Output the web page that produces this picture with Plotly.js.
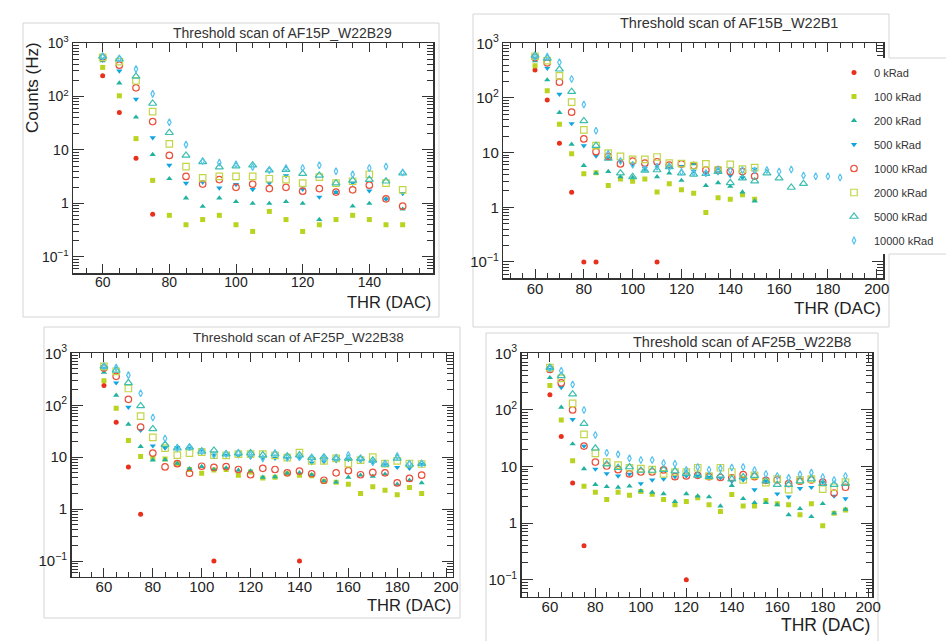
<!DOCTYPE html>
<html>
<head>
<meta charset="utf-8">
<script src="https://cdn.plot.ly/plotly-3.0.1.min.js"></script>
<style>html,body{margin:0;padding:0;background:#fff;}#chart{width:946px;height:641px;}</style>
</head>
<body>
<div id="chart"></div>
<script>
// ---------------- DATA ----------------
const doses = ['0 kRad','100 kRad','200 kRad','500 kRad','1000 kRad','2000 kRad','5000 kRad','10000 kRad'];
const titles = ['Threshold scan of AF15P_W22B29','Threshold scan of AF15B_W22B1','Threshold scan of AF25P_W22B38','Threshold scan of AF25B_W22B8'];
const yTickVals = [0.1, 1, 10, 100, 1000];
const yTickText = ['10<sup>\u22121</sup>', '1', '10', '10<sup>2</sup>', '10<sup>3</sup>'];

const thr1 = [60,65,70,75,80,85,90,95,100,105,110,115,120,125,130,135,140,145,150];
const thr2 = [60,65,70,75,80,85,90,95,100,105,110,115,120,125,130,135,140,145,150,155,160,165,170,175,180,185];
const thr3 = [60,65,70,75,80,85,90,95,100,105,110,115,120,125,130,135,140,145,150,155,160,165,170,175,180,185,190];
const thr4 = [60,65,70,75,80,85,90,95,100,105,110,115,120,125,130,135,140,145,150,155,160,165,170,175,180,185,190];

// Panel 1: AF15P_W22B29
const p1_0     = [245,50,7,0.63,null,null,null,null,null,null,null,null,null,null,null,null,null,null,null];
const p1_100   = [350,103,16.3,2.7,0.6,0.4,0.5,0.6,0.4,0.3,0.71,0.5,0.3,0.4,0.5,0.6,0.5,0.4,0.4];
const p1_200   = [465,178,41,8.2,2.9,1.26,0.88,1.26,1.08,1.0,1.0,1.08,1.0,0.5,1.6,0.89,1.0,1.22,0.78];
const p1_500   = [480,300,89,17,5.2,2.4,2.5,1.95,2.27,1.83,2.4,3.3,1.85,1.32,1.63,2.4,1.72,1.2,1.54];
const p1_1000  = [530,385,145,34,7.9,3.2,2.3,2.8,2.0,2.3,1.9,2.0,1.7,1.9,1.63,1.8,2.2,1.22,0.89];
const p1_2000  = [540,450,197,52,13,4.9,3.0,3.2,3.2,3.2,2.9,2.8,2.4,3.1,2.4,2.6,3.5,2.4,1.8];
const p1_5000  = [560,500,237,74,21,7.9,6.0,4.8,5.0,5.2,4.2,4.3,3.6,3.35,2.4,2.7,2.8,2.6,3.7];
const p1_10000 = [560,515,325,112,33,12.6,6.2,5.8,5.4,4.8,4.2,4.6,4.6,5.2,4.0,3.5,4.6,4.9,3.8];

// Panel 2: AF15B_W22B1
const p2_0     = [325,92,14.8,1.88,0.1,0.1,null,null,null,null,0.1,null,null,null,null,null,null,null,null,null,null,null,null,null,null,null];
const p2_100   = [390,136,33,9.5,4.1,4.3,2.5,3.3,3.0,3.3,1.9,2.7,2.1,1.8,0.8,1.5,1.4,1.7,1.4,null,null,null,null,null,null,null];
const p2_200   = [475,214,54,14.2,5.8,4.2,4.5,3.6,3.5,4.8,3.6,4.2,3.1,6.2,2.5,2.8,2.4,1.9,1.3,null,null,null,null,null,null,null];
const p2_500   = [520,350,117,34,13.4,8.7,8.2,7.0,6.0,5.2,5.9,5.4,5.6,4.6,4.2,4.3,3.8,3.5,5.0,null,null,null,null,null,null,null];
const p2_1000  = [550,440,194,55,17.8,10.4,8.5,6.2,7.0,6.4,6.8,5.9,6.2,5.8,4.8,4.9,4.5,4.5,3.7,null,null,null,null,null,null,null];
const p2_2000  = [580,480,253,84,26,13.4,9.8,8.5,7.5,7.5,8.3,6.4,6.3,5.8,6.2,4.8,6.1,5.0,5.3,null,null,null,null,null,null,null];
const p2_5000  = [600,530,335,130,38,13.4,7.8,4.2,3.6,4.7,4.8,5.5,4.2,4.0,4.1,4.5,2.8,3.4,3.0,4.2,3.4,2.3,2.7,null,null,null];
const p2_10000 = [560,570,450,222,76,25,9.5,7.0,6.0,5.0,5.5,5.4,4.4,4.3,4.2,4.9,4.7,4.8,4.7,4.8,4.5,4.9,3.8,3.7,3.7,3.5];

// Panel 3: AF25P_W22B38
const p3_0     = [240,47,6.5,0.8,null,null,null,null,null,0.1,null,null,null,null,null,null,0.1,null,null,null,null,null,null,null,null,null,null];
const p3_100   = [296,88,21,10.3,9.6,9.2,7.5,5.8,4.9,5.7,5.8,4.5,5.2,4.0,4.1,4.8,4.5,4.4,3.4,3.3,3.0,2.0,2.7,2.3,1.9,2.6,2.0];
const p3_200   = [430,155,43,16,8.8,8.9,7.6,6.0,6.6,5.8,6.2,5.6,5.4,4.1,4.2,4.9,5.0,4.6,3.5,3.3,4.1,4.5,4.3,4.7,3.0,3.6,3.2];
const p3_500   = [520,270,92,33,16.6,15,15.5,15,14,11,11,10.5,10,9.8,9.5,9.5,9.5,7.8,8.2,8.5,9,8.5,7.9,7.2,6.4,6.1,7.3];
const p3_1000  = [520,360,130,38,12,6.5,7.5,4.9,6.7,6.4,6.6,5.8,4.6,6.1,5.8,5.0,5.4,4.8,3.6,5.0,5.5,4.6,5.1,5.0,3.2,3.9,4.5];
const p3_2000  = [560,450,210,62,24,15,11,12,12.5,11,10.8,11.5,11.5,11.5,10.8,9.8,12.3,8.5,8.5,9.5,7.5,8.8,10,7.5,8.5,7.5,7.4];
const p3_5000  = [560,470,270,97,35,17.5,15,15.5,13,13.5,11.5,12,12,11,11.5,10.5,11,9.8,10,9.7,9.5,9.5,8.7,7.3,9.5,7.3,7.5];
const p3_10000 = [560,530,380,170,58,23,15,15.5,13,11,11.5,12,11,9.5,12,9.8,10,9.5,9.5,9.5,11,9.2,8.0,7.6,10.5,7.5,7.5];

// Panel 4: AF25B_W22B8
const p4_0     = [186,34,5.1,0.4,null,null,null,null,null,null,null,null,0.1,null,null,null,null,null,null,null,null,null,null,null,null,null,null];
const p4_100   = [270,66,12.7,4.5,3.5,2.6,3.5,3.1,3.6,3.25,2.6,2.1,2.4,2.8,2.1,1.6,3.2,2.0,2.0,2.5,2.2,2.1,1.4,2.2,0.9,1.5,1.7];
const p4_200   = [370,111,25,9.1,4.8,4.4,4.3,4.5,3.7,3.5,3.3,2.4,3.3,3.0,2.9,2.0,4.6,2.7,2.3,2.3,2.1,1.4,1.8,1.3,2.2,1.5,1.75];
const p4_500   = [520,250,68,23,9.0,7.5,6.8,7.3,5.0,5.8,6.0,6.6,6.8,6.8,6.5,6.3,5.5,5.8,3.9,5.5,3.3,2.9,4.1,4.3,5.3,3.0,2.7];
const p4_1000  = [520,300,100,23,12,10.2,8.8,7.4,8,8,8.7,6.6,6.8,7.0,6.6,6.4,6.3,7.2,6.6,5.7,5.8,5.0,5.5,5.8,5.3,3.4,4.3];
const p4_2000  = [560,360,130,37,17,12,10.6,9.5,9.2,8.8,7.4,8.0,8.0,9.5,6.8,9.5,8.0,5.8,7.0,5.2,6.0,3.9,5.8,6.0,4.0,4.3,5.3];
const p4_5000  = [560,400,190,57,21,11,9.5,9.8,8.5,8.5,8.8,8.3,7.5,7.0,6.6,6.8,6.0,6.5,6.9,5.5,4.8,4.8,5.5,6.0,5.0,4.8,5.0];
const p4_10000 = [540,490,280,100,36,17.5,16.5,14,13,13,11.5,11.2,8.7,9.8,8.8,9.3,9.6,9.8,8.7,7.4,6.8,6.3,7.3,7.8,6.5,5.8,6.8];

// ---------------- STYLE ----------------
const W = 946, H = 641;
const px = v => v / W;
const py = v => 1 - v / H;
const FONT = 'Liberation Sans, Arial, Helvetica, sans-serif';

const mColors  = ['#e8301c','#b9d31f','#22b3a0','#12a6de','#ea4e3a','#c3d64a','#3cbfae','#56c3ee'];
const mSymbols = ['circle','square','triangle-up','triangle-down','circle-open','square-open','triangle-up-open','diamond-tall-open'];
const mSizes   = [5,5,5.5,5.5,6.5,6.5,7,5];

const panels = [
  {thr: thr1, series: [p1_0,p1_100,p1_200,p1_500,p1_1000,p1_2000,p1_5000,p1_10000],
   dom: [[73,433],[43,273]], xr: [51.1,159.1]},
  {thr: thr2, series: [p2_0,p2_100,p2_200,p2_500,p2_1000,p2_2000,p2_5000,p2_10000],
   dom: [[503.3,883.3],[43.3,278.3]], xr: [47,202.7]},
  {thr: thr3, series: [p3_0,p3_100,p3_200,p3_500,p3_1000,p3_2000,p3_5000,p3_10000],
   dom: [[71.7,452.7],[353.3,576.7]], xr: [46.8,202.7]},
  {thr: thr4, series: [p4_0,p4_100,p4_200,p4_500,p4_1000,p4_2000,p4_5000,p4_10000],
   dom: [[521.7,872.3],[353.3,596.7]], xr: [47.6,201.8]}
];

const minorY = [];
for (let e = -2; e <= 2; e++) for (let k = 2; k <= 9; k++) minorY.push(k * Math.pow(10, e));

const traces = [];
const layout = {
  width: W, height: H, autosize: false,
  margin: {l: 0, r: 0, t: 0, b: 0, pad: 0},
  paper_bgcolor: '#ffffff', plot_bgcolor: '#ffffff',
  font: {family: FONT, color: '#222'},
  showlegend: true,
  legend: {
    x: px(834), y: py(58), xanchor: 'left', yanchor: 'top',
    bgcolor: 'rgba(0,0,0,0)', borderwidth: 0,
    font: {family: FONT, size: 11, color: '#333'},
    tracegroupgap: 5, traceorder: 'grouped'
  },
  shapes: [], annotations: []
};

panels.forEach((p, i) => {
  const n = i === 0 ? '' : String(i + 1);
  const xa = 'x' + n, ya = 'y' + n;
  p.series.forEach((vals, s) => {
    traces.push({
      type: 'scatter', mode: 'markers',
      x: p.thr, y: vals, xaxis: xa, yaxis: ya,
      name: doses[s], legendgroup: doses[s], showlegend: i === 1,
      marker: {symbol: mSymbols[s], size: mSizes[s], color: mColors[s],
               line: {color: mColors[s], width: s >= 4 ? 1.2 : 0}},
      hoverinfo: 'x+y+name'
    });
  });
  layout['xaxis' + n] = {
    domain: [px(p.dom[0][0]), px(p.dom[0][1])],
    range: p.xr, anchor: ya,
    showgrid: false, zeroline: false,
    showline: true, linecolor: '#333', linewidth: 1.5, mirror: 'allticks',
    ticks: 'inside', ticklen: 9, tickwidth: 1, tickcolor: '#333',
    tick0: 0, dtick: 20, ticklabelstandoff: -4,
    minor: {ticks: 'inside', ticklen: 5, tickwidth: 1, tickcolor: '#333', tick0: 0, dtick: 5, showgrid: false},
    tickfont: {family: FONT, size: i === 0 ? 14 : 15, color: '#222'}
  };
  layout['yaxis' + n] = {
    domain: [py(p.dom[1][1]), py(p.dom[1][0])],
    type: 'log', range: [-1.3, 3], anchor: xa,
    showgrid: false, zeroline: false,
    showline: true, linecolor: '#333', linewidth: 1.5, mirror: 'allticks',
    ticks: 'inside', ticklen: 11, tickwidth: 1, tickcolor: '#333',
    tickmode: 'array', tickvals: yTickVals, ticktext: yTickText,
    minor: {tickmode: 'array', tickvals: minorY, ticks: 'inside', ticklen: 6, tickwidth: 1, tickcolor: '#333', showgrid: false},
    tickfont: {family: FONT, size: i === 0 ? 14 : 15, color: '#222'}
  };
});

// Outer grey frames around each panel image
const frameCol = '#d4d4d4';
[[23,439,23,317],[473,889,14,327],[44,460,327,618],[486,878,333,645]].forEach(f => {
  layout.shapes.push({type: 'rect', xref: 'paper', yref: 'paper', layer: 'below',
    x0: px(f[0]), x1: px(f[1]), y0: py(f[3]), y1: py(f[2]),
    line: {color: frameCol, width: 1}, fillcolor: 'rgba(0,0,0,0)'});
});
// White legend box (covers the frame on the right) with its top/bottom edges
layout.shapes.push({type: 'rect', xref: 'paper', yref: 'paper', layer: 'above',
  x0: px(846), x1: px(946), y0: py(254), y1: py(58),
  line: {width: 0}, fillcolor: '#ffffff'});
layout.shapes.push({type: 'line', xref: 'paper', yref: 'paper', layer: 'above',
  x0: px(889), x1: px(946), y0: py(58), y1: py(58), line: {color: frameCol, width: 1}});
layout.shapes.push({type: 'line', xref: 'paper', yref: 'paper', layer: 'above',
  x0: px(889), x1: px(946), y0: py(254), y1: py(254), line: {color: frameCol, width: 1}});

// Panel titles
const titlePos = [[282,33,14],[729,23,14.5],[298,338,13.5],[742,342,14.5]];
titles.forEach((t, i) => {
  layout.annotations.push({text: t, xref: 'paper', yref: 'paper',
    x: px(titlePos[i][0]), y: py(titlePos[i][1]), xanchor: 'center', yanchor: 'middle',
    showarrow: false, font: {family: FONT, size: titlePos[i][2], color: '#333'}});
});
// X-axis titles (right-aligned at the end of the axis)
const xtPos = [[433,302,16.5],[883,308,17],[452.7,605,16.5],[872,625,17.5]];
xtPos.forEach(p => {
  layout.annotations.push({text: 'THR (DAC)', xref: 'paper', yref: 'paper',
    x: px(p[0]), y: py(p[1]), xanchor: 'right', yanchor: 'middle',
    showarrow: false, font: {family: FONT, size: p[2], color: '#222'}});
});
// Y-axis title (only on the first panel)
layout.annotations.push({text: 'Counts (Hz)', xref: 'paper', yref: 'paper',
  x: px(32), y: py(88), xanchor: 'center', yanchor: 'middle', textangle: -90,
  showarrow: false, font: {family: FONT, size: 17, color: '#222'}});

Plotly.newPlot('chart', traces, layout, {staticPlot: true, displayModeBar: false});
</script>
</body>
</html>
